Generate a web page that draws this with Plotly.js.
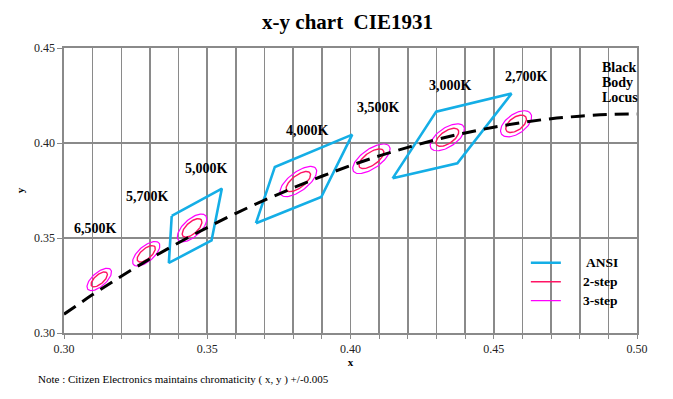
<!DOCTYPE html>
<html>
<head>
<meta charset="utf-8">
<script src="https://cdn.plot.ly/plotly-3.0.1.min.js"></script>
<style>
  html, body { margin: 0; padding: 0; background: #ffffff; }
  #chart { width: 673px; height: 399px; }
</style>
</head>
<body>
<div id="chart"></div>
<script>
// ---------------- DATA ----------------
// Black body (Planckian) locus, CIE 1931 x-y
const locusX = [0.300, 0.310, 0.320, 0.330, 0.340, 0.350, 0.360, 0.370, 0.380, 0.390, 0.400,
                0.410, 0.420, 0.430, 0.440, 0.450, 0.460, 0.470, 0.480, 0.490, 0.500];
const locusY = [0.3099, 0.3202, 0.3299, 0.3390, 0.3475, 0.3555, 0.3630, 0.3699, 0.3764, 0.3825, 0.3881,
                0.3932, 0.3977, 0.4018, 0.4053, 0.4083, 0.4108, 0.4128, 0.4141, 0.4150, 0.4153];

// MacAdam ellipse centres and 1-step parameters per CCT
const cctLabels = ['6,500K', '5,700K', '5,000K', '4,000K', '3,500K', '3,000K', '2,700K'];
const centerX   = [0.3123, 0.3287, 0.3447, 0.3818, 0.4073, 0.4338, 0.4578];
const centerY   = [0.3282, 0.3417, 0.3553, 0.3797, 0.3917, 0.4030, 0.4101];
const semiA     = [0.00223, 0.00246, 0.00274, 0.00313, 0.00309, 0.00278, 0.00258];
const semiB     = [0.00095, 0.00106, 0.00118, 0.00134, 0.00138, 0.00136, 0.00137];
const thetaDeg  = [58.23, 58.00, 59.62, 54.00, 52.58, 53.13, 57.28];
const stepCounts = [2, 3];          // 2-step, 3-step

// ANSI C78.377 quadrangles
const ansi5000X = [0.3376, 0.3366, 0.3515, 0.3551];
const ansi5000Y = [0.3616, 0.3369, 0.3487, 0.3760];
const ansi4000X = [0.3670, 0.3736, 0.4006, 0.3898];
const ansi4000Y = [0.3578, 0.3874, 0.4044, 0.3716];
const ansi3000X = [0.4147, 0.4299, 0.4562, 0.4373];
const ansi3000Y = [0.3814, 0.4165, 0.4260, 0.3893];

// Axis ticks
const xTickVals = [0.30,0.31,0.32,0.33,0.34,0.35,0.36,0.37,0.38,0.39,0.40,
                   0.41,0.42,0.43,0.44,0.45,0.46,0.47,0.48,0.49,0.50];
const xTickText = ['0.30','','','','','0.35','','','','','0.40',
                   '','','','','0.45','','','','','0.50'];
const yTickVals = [0.30, 0.35, 0.40, 0.45];
const yTickText = ['0.30', '0.35', '0.40', '0.45'];

const seriesNames = ['ANSI', '2-step', '3-step'];
const titleText = 'x-y chart\u00a0 CIE1931';
const noteText = 'Note : Citizen Electronics maintains chromaticity ( x, y ) +/-0.005';
const locusLabel = ['Black', 'Body', 'Locus'];

// ---------------- BUILD ----------------
const SERIF = 'Liberation Serif, Times New Roman, serif';

function closedPolys(xs, ys) {
  const X = [], Y = [];
  for (let i = 0; i < xs.length; i++) {
    xs[i].forEach(v => X.push(v)); X.push(xs[i][0]); X.push(null);
    ys[i].forEach(v => Y.push(v)); Y.push(ys[i][0]); Y.push(null);
  }
  return {X, Y};
}

function ellipses(k) {
  const X = [], Y = [];
  for (let i = 0; i < centerX.length; i++) {
    const th = thetaDeg[i] * Math.PI / 180;
    const a = semiA[i] * k, b = semiB[i] * k;
    for (let d = 0; d <= 360; d += 4) {
      const t = d * Math.PI / 180;
      X.push(centerX[i] + a * Math.cos(t) * Math.cos(th) - b * Math.sin(t) * Math.sin(th));
      Y.push(centerY[i] + a * Math.cos(t) * Math.sin(th) + b * Math.sin(t) * Math.cos(th));
    }
    X.push(null); Y.push(null);
  }
  return {X, Y};
}

// legend label: padded so text sits where the reference puts it
const legendPad = ['\u00a0'.repeat(7), '\u00a0'.repeat(6), '\u00a0'.repeat(6)];
const legendName = i => legendPad[i] + '<span style="font-size:13.5px">' + seriesNames[i] + '</span>';

const ansi = closedPolys([ansi5000X, ansi4000X, ansi3000X], [ansi5000Y, ansi4000Y, ansi3000Y]);
const e2 = ellipses(stepCounts[0]);
const e3 = ellipses(stepCounts[1]);

const traces = [
  { x: ansi.X, y: ansi.Y, mode: 'lines', name: legendName(0), connectgaps: false,
    line: { color: '#14AEE6', width: 2.6 }, hoverinfo: 'skip' },
  { x: e2.X, y: e2.Y, mode: 'lines', name: legendName(1), connectgaps: false,
    line: { color: '#FF1464', width: 1.4 }, hoverinfo: 'skip' },
  { x: e3.X, y: e3.Y, mode: 'lines', name: legendName(2), connectgaps: false,
    line: { color: '#FF00FF', width: 1.2 }, hoverinfo: 'skip' },
  { x: locusX, y: locusY, mode: 'lines', name: 'Black Body Locus', showlegend: false,
    line: { color: '#000000', width: 3, dash: '14px,8px', shape: 'spline' }, hoverinfo: 'skip' }
];

// label offsets (pixels) from each ellipse centre
const labelOffsets = [[-4, 51], [1, 57], [14, 59], [9, 51], [7, 51], [3, 52], [10, 47]];
const annotations = cctLabels.map((t, i) => ({
  x: centerX[i], y: centerY[i], xref: 'x', yref: 'y',
  xshift: labelOffsets[i][0], yshift: labelOffsets[i][1],
  text: t, showarrow: false, xanchor: 'center', yanchor: 'middle',
  font: { family: SERIF, size: 14, color: '#000', weight: 'bold' }
}));
const locusLineY = [67.5, 82.7, 97.5];
locusLabel.forEach((t, i) => annotations.push({
  x: 600 / 673, y: 1 - locusLineY[i] / 399, xref: 'paper', yref: 'paper',
  text: t, showarrow: false, xanchor: 'left', yanchor: 'middle',
  font: { family: SERIF, size: 14, color: '#000', weight: 'bold' }
}));
annotations.push({
  x: 35 / 673, y: 1 - 380 / 399, xref: 'paper', yref: 'paper',
  text: noteText, showarrow: false, xanchor: 'left', yanchor: 'middle',
  font: { family: SERIF, size: 11, color: '#000' }
});
// paper coords are relative to the plot area: convert from page fractions
const M = { l: 63.5, r: 35.7, t: 48.3, b: 65.7 };
const PW = 673 - M.l - M.r, PH = 399 - M.t - M.b;
annotations.forEach(a => {
  if (a.xref === 'paper') {
    a.x = (a.x * 673 - M.l) / PW;
    a.y = ((a.y * 399) - M.b) / PH;
  }
});

const gridColor = '#8a8a8a';
const layout = {
  width: 673, height: 399,
  margin: M,
  paper_bgcolor: '#ffffff', plot_bgcolor: '#ffffff',
  showlegend: true,
  title: {
    text: titleText, x: 333 / 673, xref: 'paper', y: 1 - 22 / 399, yref: 'container',
    xanchor: 'center', yanchor: 'middle',
    font: { family: SERIF, size: 21, color: '#000', weight: 'bold' }
  },
  xaxis: {
    range: [0.30, 0.50], tickmode: 'array', tickvals: xTickVals, ticktext: xTickText,
    showgrid: true, gridcolor: gridColor, gridwidth: 1.6, zeroline: false,
    showline: true, linecolor: gridColor, linewidth: 1.6, mirror: true,
    ticks: 'outside', ticklen: 4, tickcolor: gridColor, tickwidth: 1,
    tickfont: { family: SERIF, size: 12, color: '#222' },
    title: { text: 'x', standoff: 2, font: { family: SERIF, size: 11, color: '#000', weight: 'bold' } }
  },
  yaxis: {
    range: [0.30, 0.45], tickmode: 'array', tickvals: yTickVals, ticktext: yTickText,
    showgrid: true, gridcolor: gridColor, gridwidth: 1.6, zeroline: false,
    showline: true, linecolor: gridColor, linewidth: 1.6, mirror: true,
    ticks: 'outside', ticklen: 5, tickcolor: gridColor, tickwidth: 1,
    tickfont: { family: SERIF, size: 12, color: '#222' },
    title: { text: 'y', standoff: 7, font: { family: SERIF, size: 11, color: '#000', weight: 'bold' } }
  },
  legend: {
    x: (526 - M.l) / PW, y: (399 - M.b - 248.5) / PH, xanchor: 'left', yanchor: 'top',
    bgcolor: 'rgba(0,0,0,0)', borderwidth: 0, tracegroupgap: 0,
    font: { family: SERIF, size: 11.5, color: '#000', weight: 'bold' }
  },
  annotations: annotations
};

Plotly.newPlot('chart', traces, layout, { staticPlot: true, displayModeBar: false });
</script>
</body>
</html>
